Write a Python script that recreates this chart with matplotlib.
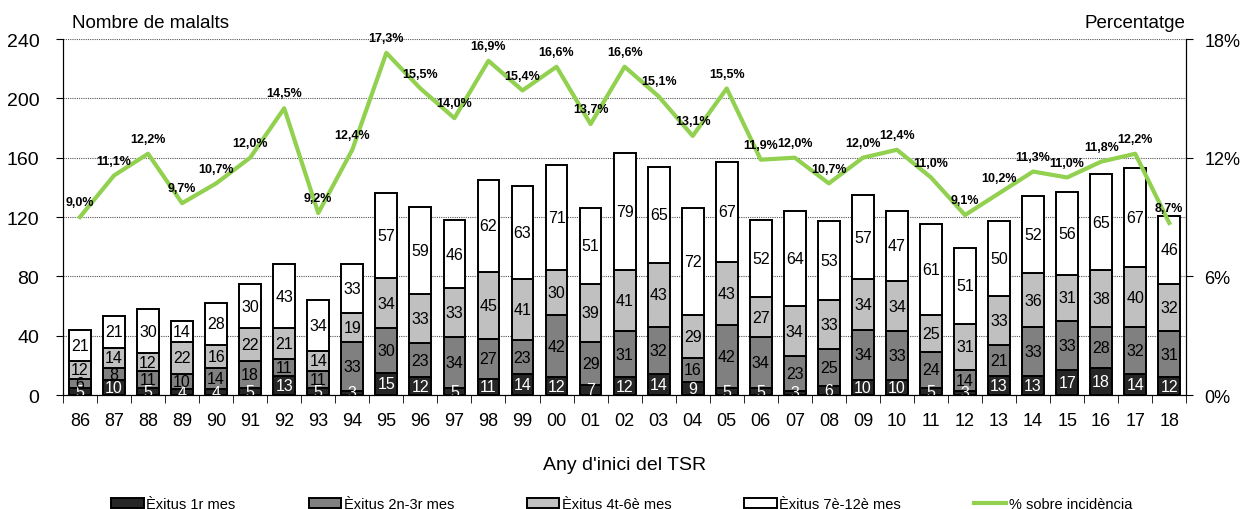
import numpy as np
import matplotlib.pyplot as plt
from matplotlib.ticker import FuncFormatter

plt.rcParams['font.family'] = ['Liberation Sans', 'DejaVu Sans']

anys = ["86", "87", "88", "89", "90", "91", "92", "93", "94", "95", "96", "97", "98", "99", "00",
        "01", "02", "03", "04", "05", "06", "07", "08", "09", "10", "11", "12", "13", "14", "15",
        "16", "17", "18"]
exitus_1r = [5, 10, 5, 4, 4, 5, 13, 5, 3, 15, 12, 5, 11, 14, 12, 7, 12, 14, 9, 5, 5, 3, 6, 10, 10,
             5, 3, 13, 13, 17, 18, 14, 12]
exitus_2_3 = [6, 8, 11, 10, 14, 18, 11, 11, 33, 30, 23, 34, 27, 23, 42, 29, 31, 32, 16, 42, 34, 23,
              25, 34, 33, 24, 14, 21, 33, 33, 28, 32, 31]
exitus_4_6 = [12, 14, 12, 22, 16, 22, 21, 14, 19, 34, 33, 33, 45, 41, 30, 39, 41, 43, 29, 43, 27, 34,
              33, 34, 34, 25, 31, 33, 36, 31, 38, 40, 32]
exitus_7_12 = [21, 21, 30, 14, 28, 30, 43, 34, 33, 57, 59, 46, 62, 63, 71, 51, 79, 65, 72, 67, 52, 64,
               53, 57, 47, 61, 51, 50, 52, 56, 65, 67, 46]
pct = [9.0, 11.1, 12.2, 9.7, 10.7, 12.0, 14.5, 9.2, 12.4, 17.3, 15.5, 14.0, 16.9, 15.4, 16.6, 13.7,
       16.6, 15.1, 13.1, 15.5, 11.9, 12.0, 10.7, 12.0, 12.4, 11.0, 9.1, 10.2, 11.3, 11.0, 11.8, 12.2, 8.7]

series = [exitus_1r, exitus_2_3, exitus_4_6, exitus_7_12]
noms = ["Èxitus 1r mes", "Èxitus 2n-3r mes", "Èxitus 4t-6è mes", "Èxitus 7è-12è mes"]
colors = ["#262626", "#808080", "#c0c0c0", "#ffffff"]
txtcol = ["white", "black", "black", "black"]

fig = plt.figure(figsize=(12.44, 5.10), dpi=100)
ax = fig.add_axes([0.0506, 0.2235, 0.903, 0.698])
x = np.arange(len(anys))
bottom = np.zeros(len(anys))
for vals, nom, c, tc in zip(series, noms, colors, txtcol):
    vals = np.array(vals)
    ax.bar(x, vals, 0.64, bottom=bottom, color=c, edgecolor="black", linewidth=1.4, label=nom, zorder=3)
    for xi, b, v in zip(x, bottom, vals):
        ax.text(xi, b + v / 2, str(v), ha="center", va="center", color=tc, fontsize=11.5, zorder=4)
    bottom += vals

ax.set_xlim(-0.5, len(anys) - 0.5)
ax.set_ylim(0, 240)
ax.set_yticks(range(0, 241, 40))
ax.tick_params(axis="y", labelsize=14, length=5, pad=12)
ax.set_xticks(x)
ax.set_xticklabels(anys, fontsize=13)
ax.set_xticks(np.arange(-0.5, len(anys), 1), minor=True)
ax.tick_params(axis="x", which="major", length=0, pad=12)
ax.tick_params(axis="x", which="minor", length=6)
ax.grid(axis="y", linestyle=(0, (1, 1)), color="#555555", linewidth=0.8, zorder=0)
ax.spines["top"].set_visible(False)
ax.set_xlabel("Any d'inici del TSR", fontsize=14, labelpad=20)

ax2 = ax.twinx()
ax2.plot(x, pct, color="#92d050", linewidth=3, zorder=5, label="% sobre incidència")
ax2.set_ylim(0, 18)
ax2.set_yticks([0, 6, 12, 18])
ax2.yaxis.set_major_formatter(FuncFormatter(lambda v, p: f"{v:.0f}%"))
ax2.tick_params(axis="y", labelsize=13, length=5, pad=8)
ax2.spines["top"].set_visible(False)
for xi, p in zip(x, pct):
    ax2.text(xi, p + 0.45, f"{p:.1f}%".replace(".", ","), ha="center", va="bottom",
             fontsize=9, fontweight="bold", zorder=6)

fig.text(0.058, 0.945, "Nombre de malalts", fontsize=13.5)
fig.text(0.953, 0.945, "Percentatge", fontsize=13.5, ha="right")

h1, l1 = ax.get_legend_handles_labels()
h2, l2 = ax2.get_legend_handles_labels()
fig.legend(h1 + h2, l1 + l2, loc="lower center", bbox_to_anchor=(0.5, -0.03), ncol=5,
           frameon=False, fontsize=10.5, handlelength=2.2, columnspacing=5, handletextpad=0.2)

fig.savefig("out.png", dpi=100)
